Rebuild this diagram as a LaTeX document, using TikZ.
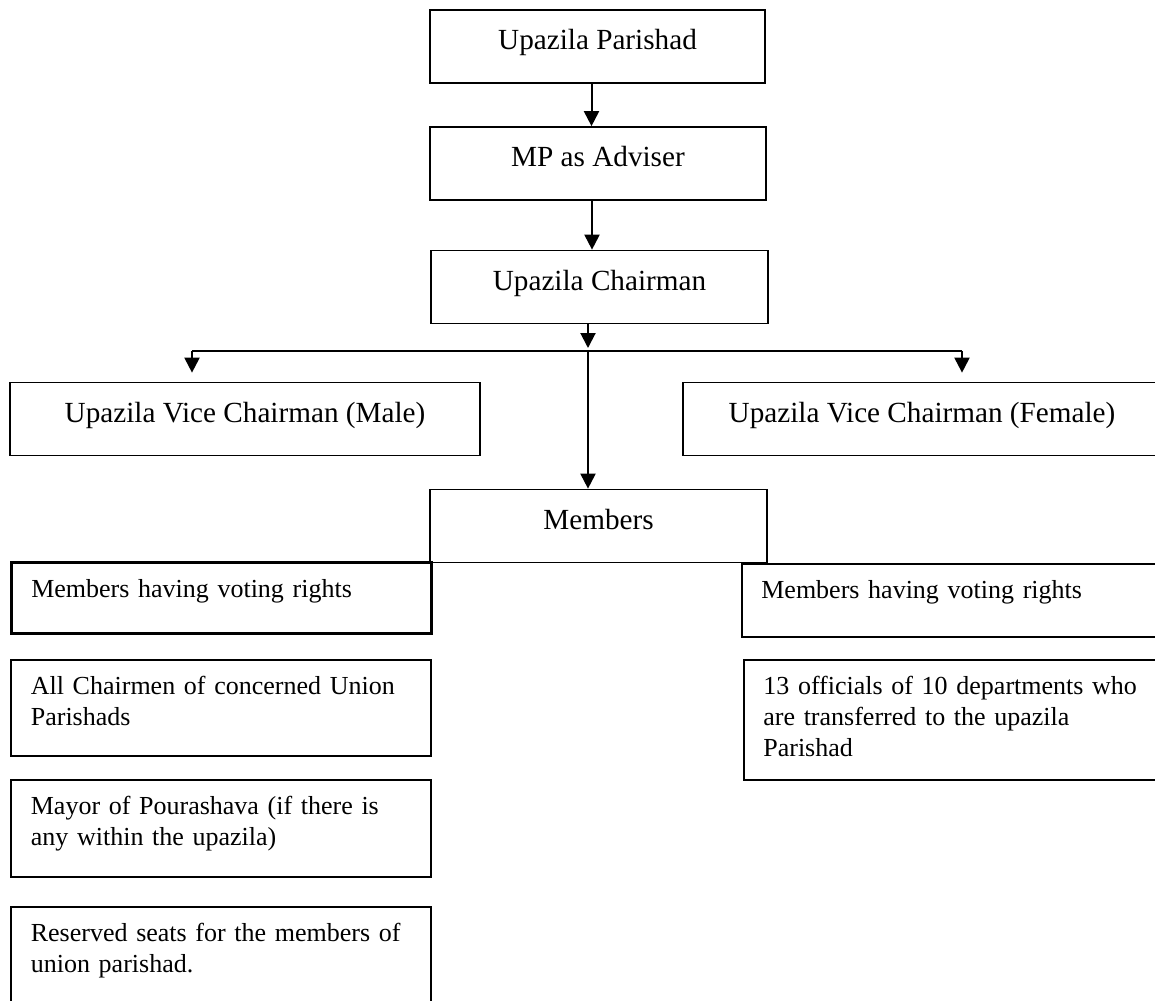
\documentclass[tikz,border=0pt]{standalone}
\usepackage{fontspec}
\setmainfont{Liberation Serif}
\usetikzlibrary{arrows.meta}
\tikzset{
  box/.style={
    draw, line width=0.85pt, inner sep=0pt,
    minimum height=36.5pt,
    text height=10pt, text depth=7pt,
    font=\fontsize{14.6pt}{17pt}\selectfont
  },
  listbox/.style={
    draw, line width=0.85pt, anchor=north west,
    inner xsep=10pt, inner ysep=0pt,
    text width=190pt, align=left, text height=17.5pt,
    font=\fontsize{13pt}{15.5pt}\selectfont
  },
  listboxR/.style={
    listbox, inner xsep=9.75pt, text width=197.5pt
  },
  arr/.style={
    line width=1pt,
    -{Triangle[width=7.5pt,length=7.5pt]}
  }
}
\begin{document}
\begin{tikzpicture}[x=0.5pt,y=-0.5pt]
  \path[use as bounding box, clip] (0,0) rectangle (1155,1000);

  \node[box, minimum width=167.5pt] (parishad) at (597.5,46.5) {Upazila Parishad};
  \node[box, minimum width=168pt] (adviser) at (598,163.5) {MP as Adviser};
  \node[box, minimum width=168.5pt] (chair) at (599.5,287) {Upazila Chairman};
  \node[box, minimum width=235pt] (vcmale) at (245,419) {Upazila Vice Chairman (Male)};
  \node[box, minimum width=239pt] (vcfemale) at (922,419) {Upazila Vice Chairman (Female)};
  \node[box, minimum width=168.5pt] (members) at (598.5,526) {Members};

  % left column
  \node[listbox, line width=1.25pt, text depth=18pt] (voteL) at (10,561)
    {Members having voting rights};
  \node[listbox, text depth=30.5pt] (unionch) at (10,659)
    {All Chairmen of concerned Union\\Parishads};
  \node[listbox, text depth=31pt] (mayor) at (10,779)
    {Mayor of Pourashava (if there is\\any within the upazila)};
  \node[listbox, text depth=31pt] (reserved) at (10,906)
    {Reserved seats for the members of\\union parishad.};

  % right column
  \node[listboxR, text depth=19pt] (voteR) at (741,563)
    {Members having voting rights};
  \node[listboxR, text depth=42.5pt] (officials) at (743,659)
    {13 officials of 10 departments who\\are transferred to the upazila\\Parishad};

  \coordinate (fork) at (588,351);
  \coordinate (forkL) at (192,351);
  \coordinate (forkR) at (962,351);

  \draw[arr] ([xshift=-3pt]parishad.south) -- ([xshift=-3pt]parishad.south |- adviser.north);
  \draw[arr] ([xshift=-3pt]adviser.south) -- ([xshift=-3pt]adviser.south |- chair.north);
  \draw[arr, shorten >=1.5pt] (chair.south -| fork) -- (fork);
  \draw[line width=1pt] (forkL) -- (forkR);
  \draw[arr, shorten >=4.5pt] (forkL) -- (forkL |- vcmale.north);
  \draw[arr, shorten >=4.5pt] (forkR) -- (forkR |- vcfemale.north);
  \draw[arr] (fork) -- (fork |- members.north);
\end{tikzpicture}
\end{document}
